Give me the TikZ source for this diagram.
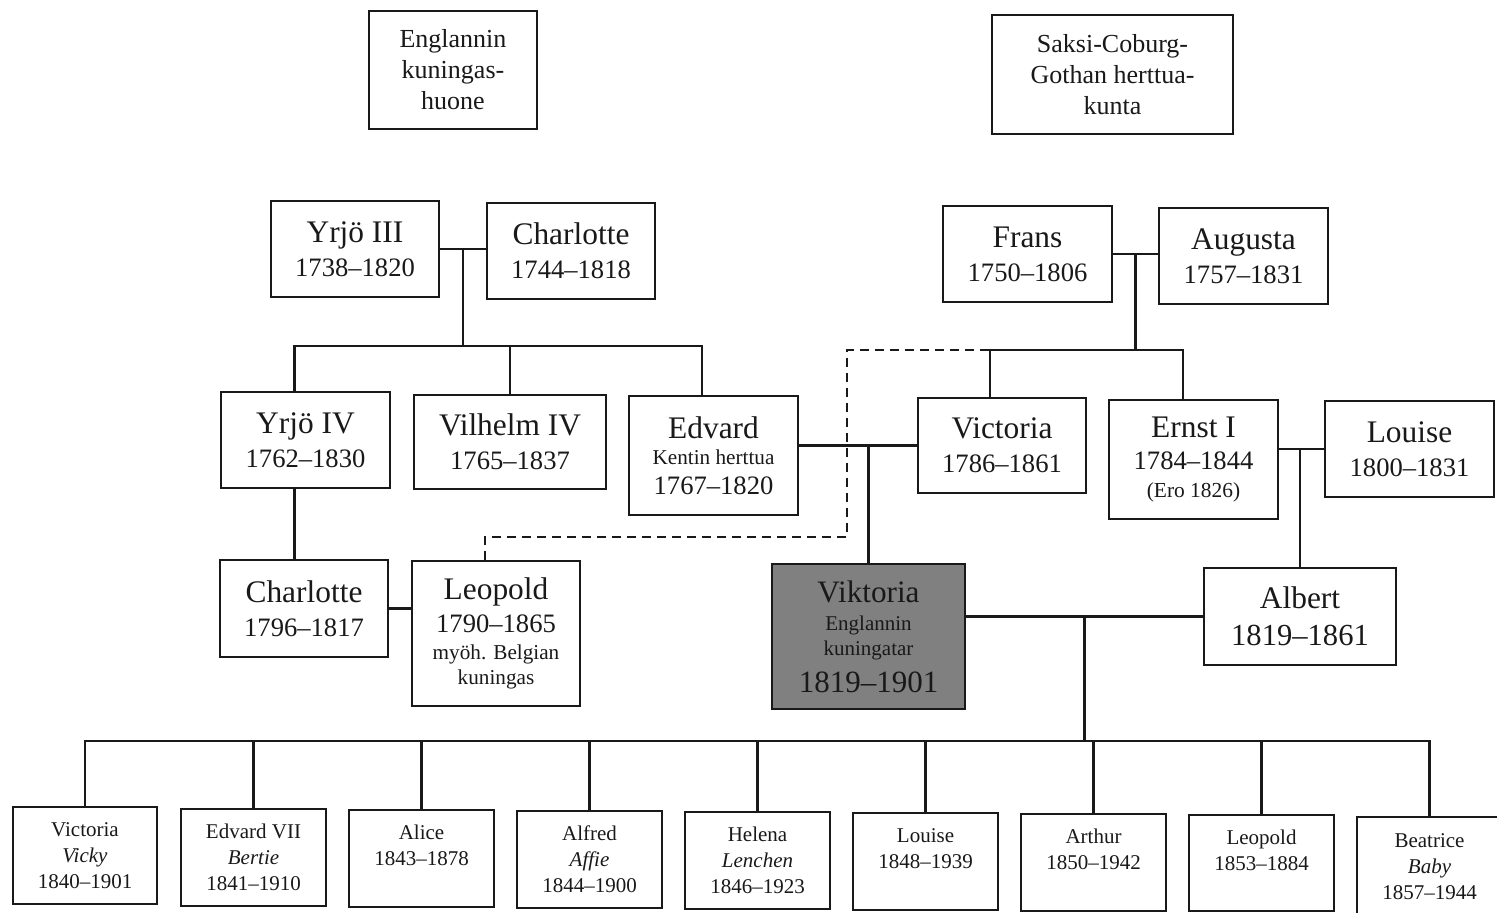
\documentclass[tikz,border=0pt]{standalone}
\usepackage{fontspec}
\setmainfont{Liberation Serif}
\usetikzlibrary{calc}
\newcommand\fs[2]{\fontsize{#1}{#2}\selectfont}
\newcommand\pbox[7]{\node[#6, minimum width={(#4-#2)*0.5pt}, minimum height={(#5-#3)*0.5pt}] (#1) at ({(#2+#4)/2},{(#3+#5)/2}) {#7};}
\definecolor{queen}{RGB}{128,128,128}
\definecolor{ink}{RGB}{25,25,25}
\tikzset{
  pb/.style={draw=ink, text=ink, line width=1.35pt, inner sep=0pt, align=center, fill=white},
  big/.style={pb, font=\fs{15.7}{17}},
  kid/.style={pb, font=\fs{10.5}{13}},
  house/.style={pb, font=\fs{13}{15.5}},
  conn/.style={draw=ink, line width=1.2pt},
  dconn/.style={draw=ink, line width=1.3pt, dash pattern=on 4.5pt off 3pt}
}
\begin{document}
\begin{tikzpicture}[x=0.5pt, y=-0.5pt]
\useasboundingbox (0,0) rectangle (1497,913);
\clip (0,0) rectangle (1497,913);
\fill[white] (0,0) rectangle (1497,913);

% houses
\pbox{eng}{369}{11}{537}{129}{house}{Englannin\\kuningas-\\huone}
\pbox{sax}{992}{15}{1233}{134}{house}{Saksi-Coburg-\\Gothan herttua-\\kunta}

% generation 1
\pbox{y3}{271}{201}{439}{297}{big}{Yrjö III\\{\fs{13.3}{13.3}1738–1820}}
\pbox{ch1}{487}{203}{655}{299}{big}{Charlotte\\{\fs{13.3}{13.3}1744–1818}}
\pbox{fr}{943}{206}{1112}{302}{big}{Frans\\{\fs{13.3}{13.3}1750–1806}}
\pbox{au}{1159}{208}{1328}{304}{big}{Augusta\\{\fs{13.3}{13.3}1757–1831}}

% generation 2
\pbox{y4}{221}{392}{390}{488}{big}{Yrjö IV\\{\fs{13.3}{13.3}1762–1830}}
\pbox{v4}{414}{395}{606}{489}{big}{Vilhelm IV\\{\fs{13.3}{13.3}1765–1837}}
\pbox{ed}{629}{396}{798}{515}{pb, font=\fs{15.7}{13}}{Edvard\\{\fs{10.6}{10.6}Kentin herttua}\\[2pt]{\fs{13.3}{13.3}1767–1820}}
\pbox{vi}{918}{398}{1086}{493}{big}{Victoria\\{\fs{13.3}{13.3}1786–1861}}
\pbox{er}{1109}{400}{1278}{519}{pb, font=\fs{15.7}{14}}{Ernst I\\[2pt]{\fs{13.3}{13.3}1784–1844}\\{\fs{10.7}{10.7}(Ero 1826)}}
\pbox{lo}{1325}{401}{1494}{497}{big}{Louise\\{\fs{13.3}{13.3}1800–1831}}

% generation 3
\pbox{ch2}{220}{560}{388}{657}{big}{Charlotte\\{\fs{13.3}{13.3}1796–1817}}
\pbox{le}{412}{561}{580}{706}{pb, font=\fs{15.7}{12.5}}{Leopold\\[4pt]{\fs{13.3}{13.3}1790–1865}\\[1pt]{\fs{10.6}{10.6}myöh. Belgian}\\{\fs{10.6}{10.6}kuningas}}
\pbox{vk}{772}{564}{965}{709}{pb, fill=queen, font=\fs{15.6}{12.5}}{Viktoria\\[1.5pt]{\fs{10.5}{10.5}Englannin}\\{\fs{10.5}{10.5}kuningatar}\\[5pt]{\fs{15.5}{15.5}1819–1901}}
\pbox{al}{1204}{568}{1396}{665}{pb, font=\fs{15.7}{18.5}}{Albert\\{\fs{15.3}{15.3}1819–1861}}

% children
\pbox{c1}{13}{807}{157}{904}{kid}{Victoria\\\textit{Vicky}\\1840–1901}
\pbox{c2}{181}{809}{326}{906}{kid}{Edvard VII\\\textit{Bertie}\\1841–1910}
\pbox{c3}{349}{810}{494}{907}{kid}{Alice\\1843–1878\\\mbox{}}
\pbox{c4}{517}{811}{662}{908}{kid}{Alfred\\\textit{Affie}\\1844–1900}
\pbox{c5}{685}{812}{830}{909}{kid}{Helena\\\textit{Lenchen}\\1846–1923}
\pbox{c6}{853}{813}{998}{910}{kid}{Louise\\1848–1939\\\mbox{}}
\pbox{c7}{1021}{814}{1166}{911}{kid}{Arthur\\1850–1942\\\mbox{}}
\pbox{c8}{1189}{815}{1334}{911}{kid}{Leopold\\1853–1884\\\mbox{}}
\pbox{c9}{1357}{817}{1502}{916}{kid}{Beatrice\\\textit{Baby}\\1857–1944}

% helper points (shifted attachment points)
\path ([xshift=-5.5pt]y4.north) coordinate (y4t)
      ([xshift=-5.5pt]y4.south) coordinate (y4b)
      ([xshift=-5.75pt]ed.north) coordinate (edt)
      ([xshift=-6pt]vi.north) coordinate (vit)
      ([xshift=-5.25pt]er.north) coordinate (ert)
      ([xshift=-5.5pt]le.north) coordinate (let);

% Yrjo III + Charlotte
\draw[conn] (y3.east) -- (ch1.west |- y3.east) coordinate[pos=0.5] (m1);
\coordinate (b1) at (m1 |- 0,346);
\draw[conn] (m1) -- (b1);
\draw[conn] (y4t) |- (b1) -| (edt);
\draw[conn] (v4.north) -- (v4.north |- b1);
\draw[conn] (y4b) -- (y4b |- ch2.north);

% Frans + Augusta
\draw[conn] (fr.east) -- (au.west |- fr.east) coordinate[pos=0.5] (m2);
\coordinate (b2) at (m2 |- 0,350);
\draw[conn] (m2) -- (b2);
\draw[conn] (vit) |- (b2) -| (ert);

% dashed link Leopold
\coordinate (d1) at (847,537);
\coordinate (d2) at (847,350);
\draw[dconn] (let) |- (d1) -- (d2) -- (vit |- b2);

% Edvard + Victoria
\draw[conn] (ed.east |- vi.west) -- (vi.west);
\draw[conn] (vk.north) -- (vk.north |- vi.west);

% Ernst + Louise
\draw[conn] (er.east |- lo.west) -- (lo.west);
\draw[conn] (al.north) -- (al.north |- lo.west);

% Charlotte + Leopold
\draw[conn] (ch2.east) -- (le.west |- ch2.east);

% Viktoria + Albert
\draw[conn] (vk.east |- al.west) -- (al.west) coordinate[pos=0.5] (m5);
\coordinate (b5) at (m5 |- 0,741);
\draw[conn] (m5) -- (b5);
\draw[conn] (c1.north) |- (b5) -| (c9.north);
\foreach \c in {c2,c3,c4,c5,c6,c7,c8}
  \draw[conn] (\c.north) -- (\c.north |- b5);
\end{tikzpicture}
\end{document}
